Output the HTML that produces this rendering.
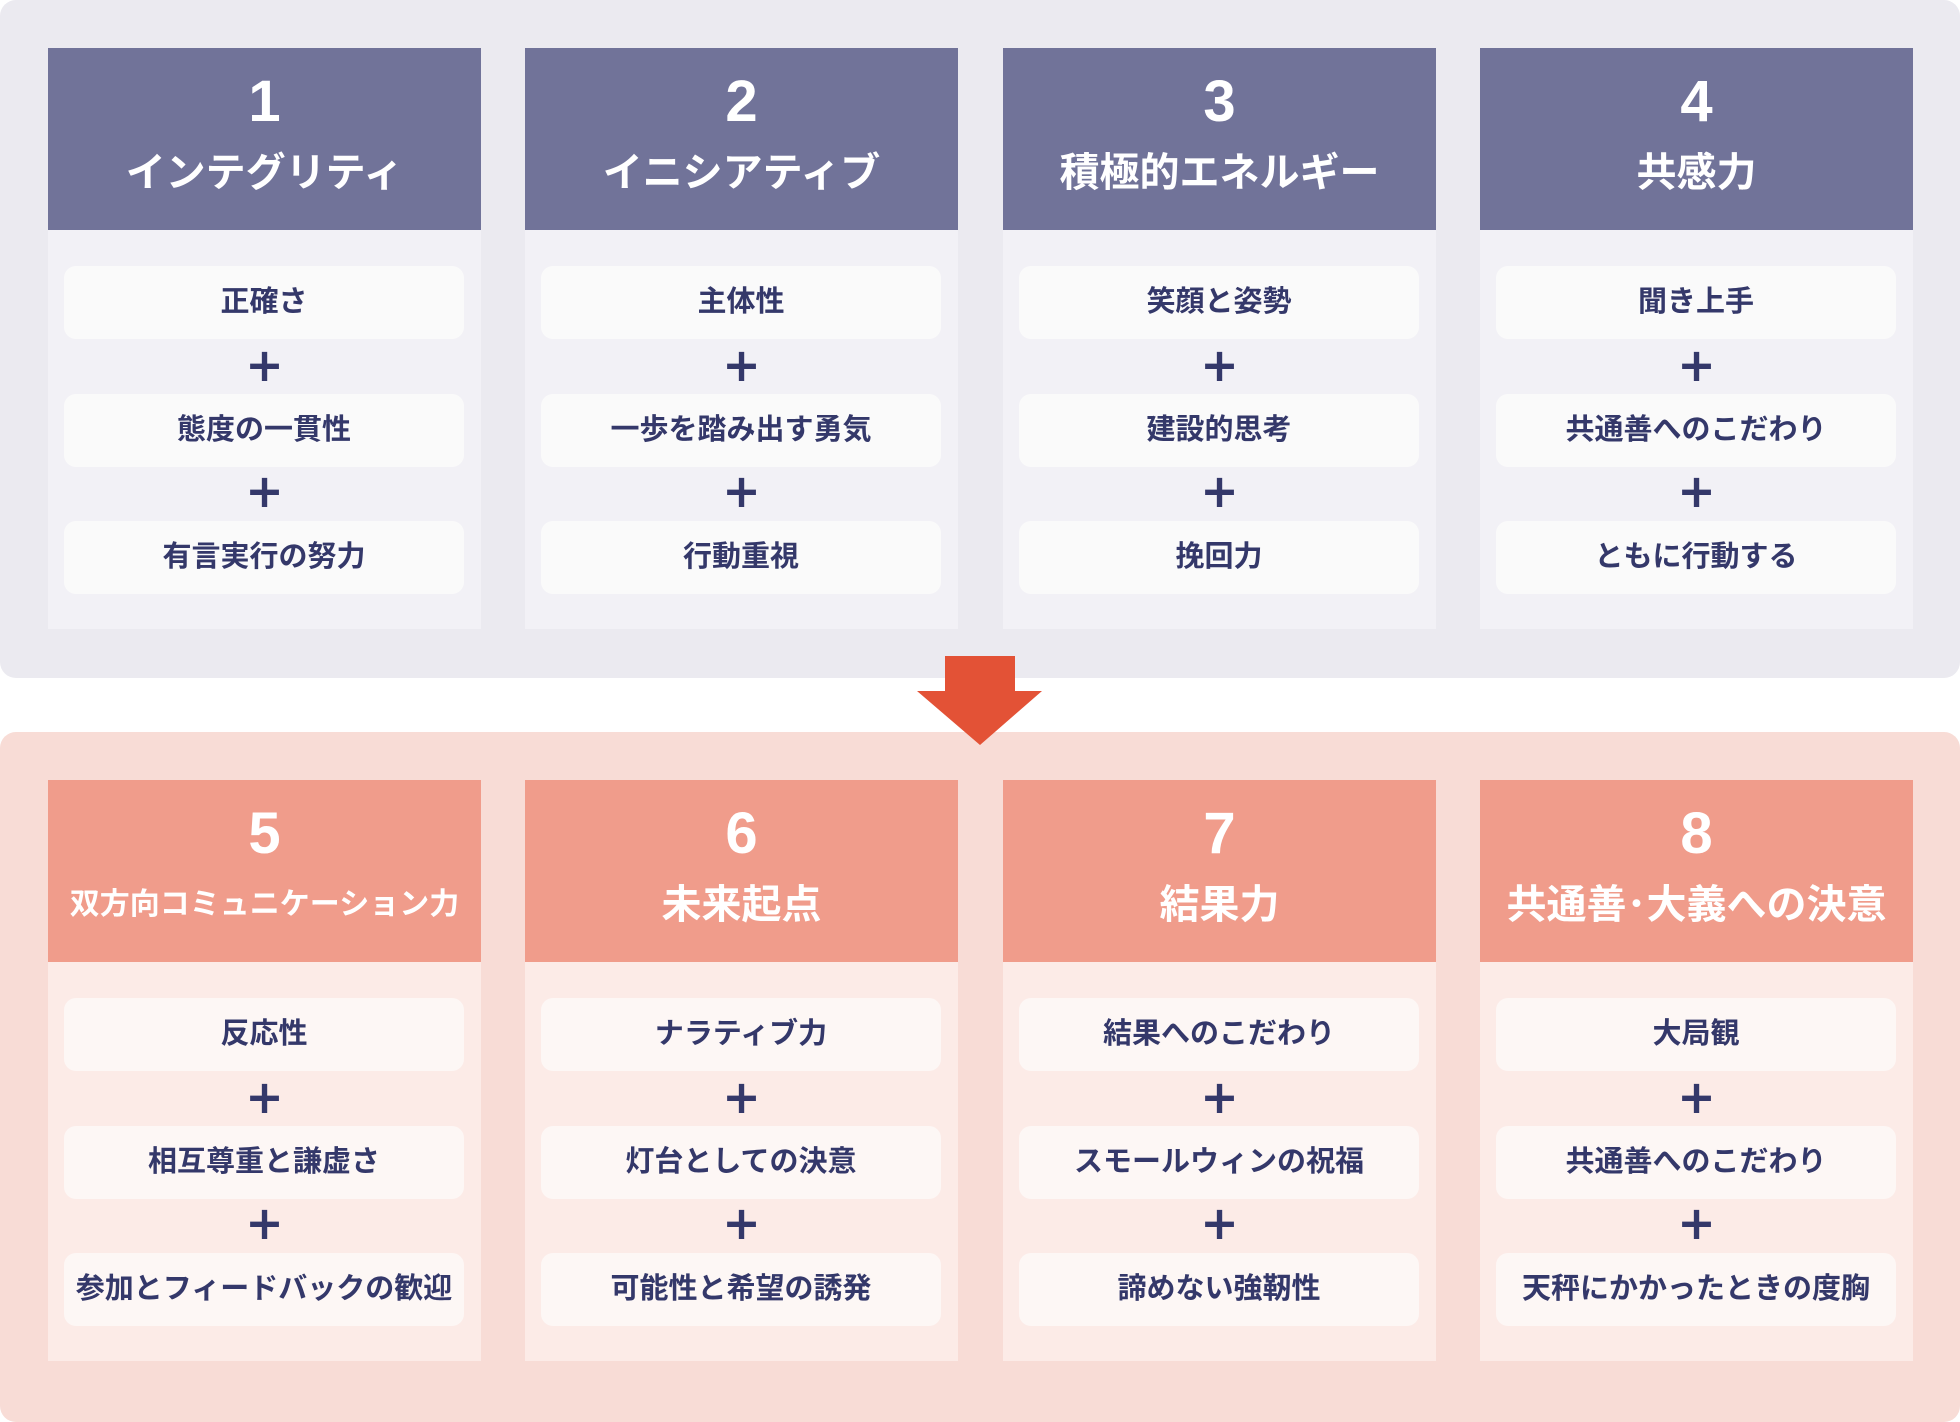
<!DOCTYPE html>
<html><head><meta charset="utf-8"><style>
*{margin:0;padding:0;box-sizing:border-box}
body{width:1960px;height:1410px;background:#fff;position:relative;overflow:hidden;font-family:"Liberation Sans","Noto Sans CJK JP",sans-serif;font-weight:bold}
.panel{position:absolute;left:0;width:1960px;border-radius:16px}
.col{position:absolute;width:433px}
.hd{position:absolute;left:0;top:0;width:433px;height:182px;color:#fff;text-align:center}
.hd .n{position:absolute;top:22px;left:0;right:0;font-size:58px;line-height:64px;font-family:"Liberation Sans",sans-serif;font-weight:bold}
.hd .t{position:absolute;top:98px;left:0;right:0;font-size:40px;line-height:54px;white-space:nowrap}
.bd{position:absolute;left:0;top:182px;width:433px;height:399px}
.it{position:absolute;left:16px;width:400px;height:73px;border-radius:12px;color:#34386a;font-size:29px;line-height:73px;text-align:center;white-space:nowrap}
.pl{position:absolute;left:0;width:433px;text-align:center;color:#34386a;font-size:46px;line-height:50px;font-family:"DejaVu Sans",sans-serif}
.top .hd{background:#717399}.top .bd{background:#f2f1f6}.top .it{background:#fafafa}
.bot .hd{background:#f09c8b}.bot .bd{background:#fcebe7}.bot .it{background:#fdf7f5}
</style></head><body>
<div class="panel" style="top:0;height:678px;background:#ebeaf0"></div>
<div class="panel" style="top:732px;height:690px;background:#f8dcd6"></div>
<svg style="position:absolute;left:0;top:0" width="1960" height="1410"><polygon points="945,656 1015,656 1015,691 1042,691 980,745 917,691 945,691" fill="#e35236"/></svg>
<div id="c"></div>
<script>
const T=[["1","インテグリティ",["正確さ","態度の一貫性","有言実行の努力"]],["2","イニシアティブ",["主体性","一歩を踏み出す勇気","行動重視"]],["3","積極的エネルギー",["笑顔と姿勢","建設的思考","挽回力"]],["4","共感力",["聞き上手","共通善へのこだわり","ともに行動する"]],
["5","双方向コミュニケーション力",["反応性","相互尊重と謙虚さ","参加とフィードバックの歓迎"]],["6","未来起点",["ナラティブ力","灯台としての決意","可能性と希望の誘発"]],["7","結果力",["結果へのこだわり","スモールウィンの祝福","諦めない強靭性"]],["8","共通善･大義への決意",["大局観","共通善へのこだわり","天秤にかかったときの度胸"]]];
const X=[48,525,1003,1480];let h="";
T.forEach((d,i)=>{const top=i<4?48:780;const cls=i<4?"top":"bot";
h+=`<div class="col ${cls}" style="left:${X[i%4]}px;top:${top}px"><div class="hd"><div class="n">${d[0]}</div><div class="t" style="${d[1].length>12?'font-size:30px':''}">${d[1]}</div></div><div class="bd"></div>`;
[218,346,473].forEach((y,k)=>{h+=`<div class="it" style="top:${y}px">${d[2][k]}</div>`});
h+=`<div class="pl" style="top:292px">+</div><div class="pl" style="top:418px">+</div></div>`;});
document.getElementById("c").innerHTML=h;
</script>
</body></html>
